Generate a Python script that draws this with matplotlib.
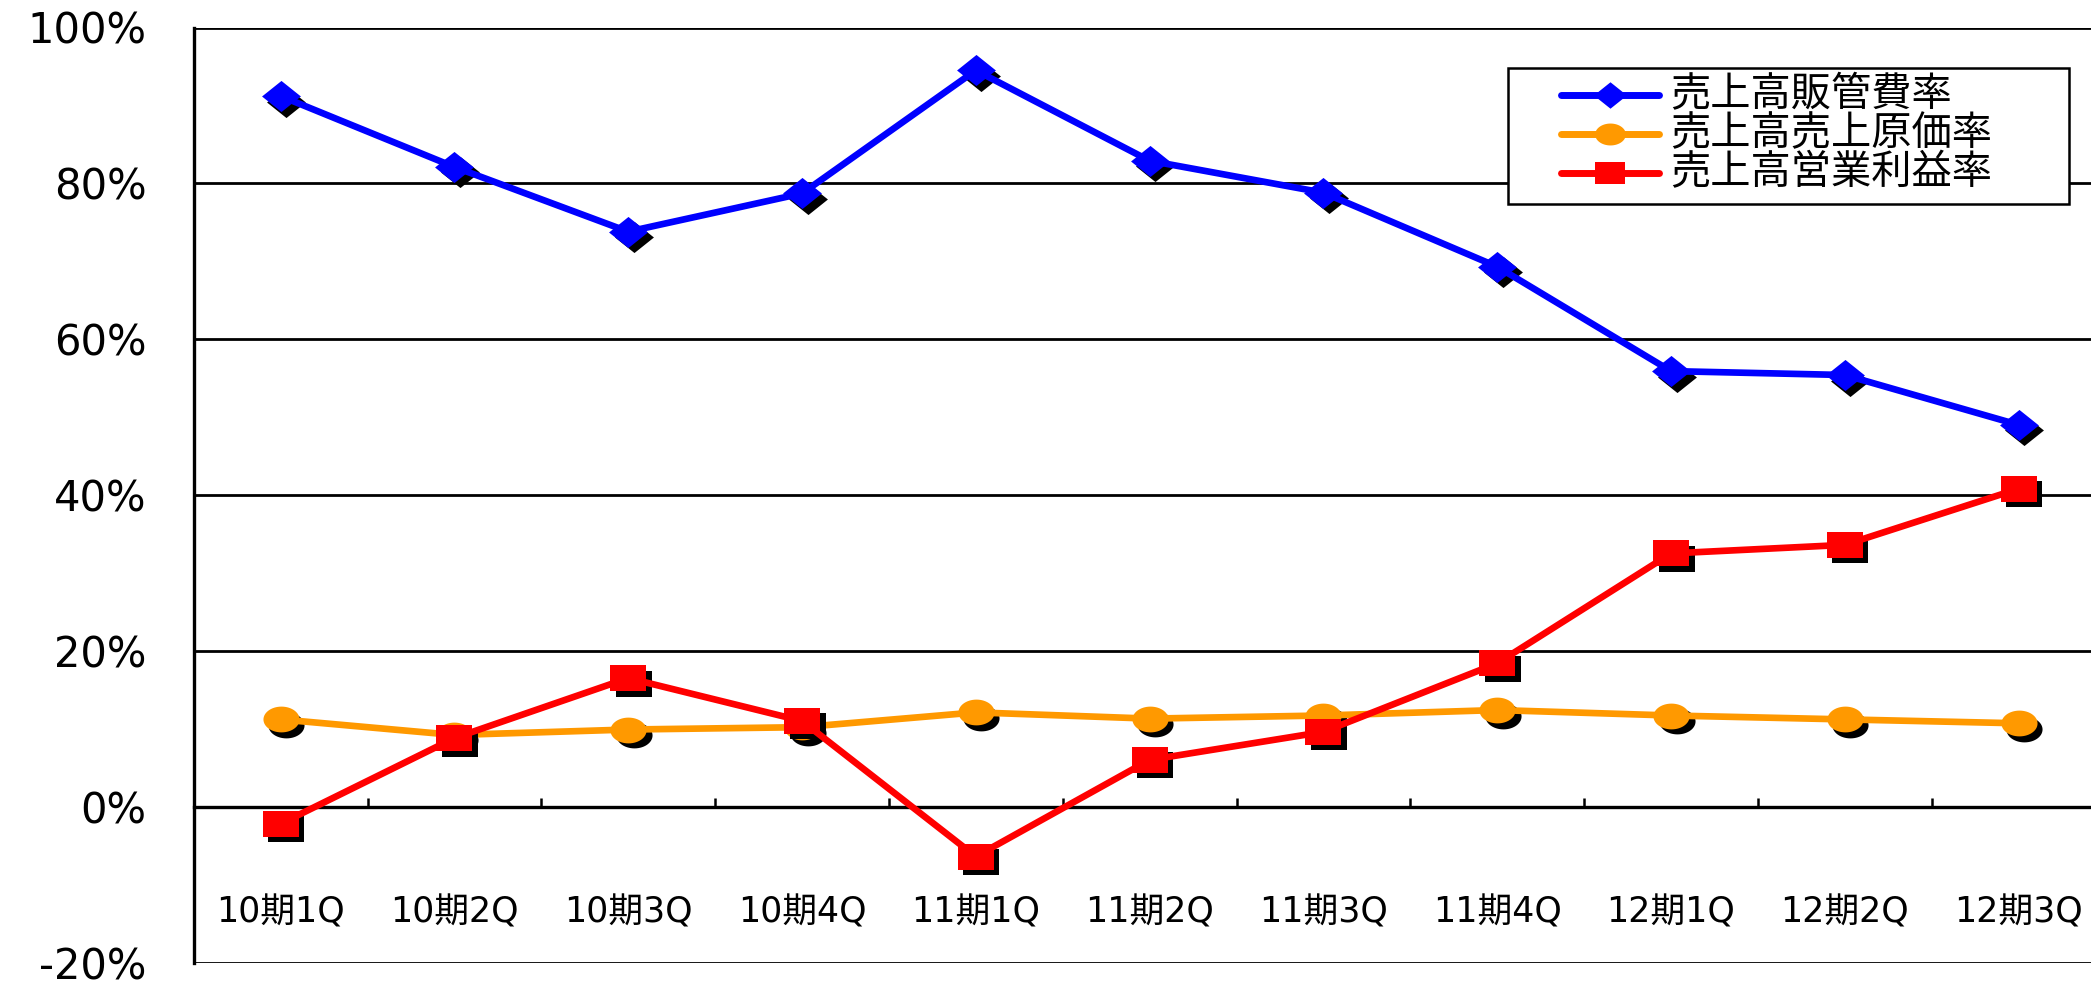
import matplotlib
matplotlib.use("Agg")
import matplotlib.pyplot as plt
import numpy as np
from matplotlib.path import Path
from matplotlib.patches import Rectangle
from matplotlib.lines import Line2D
from matplotlib.transforms import ScaledTranslation

quarters = ["10期1Q", "10期2Q", "10期3Q", "10期4Q", "11期1Q", "11期2Q",
            "11期3Q", "11期4Q", "12期1Q", "12期2Q", "12期3Q"]
sga_ratio = [91.2, 82.1, 73.8, 78.7, 94.5, 82.9, 78.8, 69.3, 55.9, 55.4, 49.0]
cost_ratio = [11.2, 9.2, 9.9, 10.2, 12.1, 11.3, 11.7, 12.4, 11.7, 11.2, 10.7]
profit_ratio = [-2.2, 8.8, 16.5, 11.0, -6.4, 6.0, 9.6, 18.4, 32.5, 33.6, 40.8]
series_names = ["売上高販管費率", "売上高売上原価率", "売上高営業利益率"]
y_ticks = [-20, 0, 20, 40, 60, 80, 100]

# wide markers (the original chart is stretched horizontally)
diamond = Path([(-1.25, 0), (0, -1), (1.25, 0), (0, 1), (-1.25, 0)], closed=True)
square = Path([(-1.4, -1), (1.4, -1), (1.4, 1), (-1.4, 1), (-1.4, -1)], closed=True)
t = np.linspace(0, 2 * np.pi, 61)
ellipse = Path(np.column_stack([1.4 * np.cos(t), np.sin(t)]), closed=True)

W, H = 2091, 981
fig = plt.figure(figsize=(W / 100, H / 100), dpi=100)
ax = fig.add_axes([193.7 / W, 18.5 / H, (2105.5 - 193.7) / W, 935 / H])

x = np.arange(len(quarters))
shadow = ax.transData + ScaledTranslation(0.055, -0.055, fig.dpi_scale_trans)

styles = [(sga_ratio, "#0000FF", diamond, 28),
          (cost_ratio, "#FF9900", ellipse, 26),
          (profit_ratio, "#FF0000", square, 26)]
for k, (vals, col, mk, ms) in enumerate(styles):
    z = 3 + 3 * k
    ax.plot(x, vals, linestyle="none", marker=mk, markersize=ms, color="black",
            markeredgewidth=0, transform=shadow, zorder=z, clip_on=False)
    ax.plot(x, vals, color=col, lw=4.8, marker=mk, markersize=ms,
            markeredgewidth=0, zorder=z + 1, clip_on=False)

ax.set_xlim(-0.5, 10.5)
ax.set_ylim(-20, 100)

# gridlines
for yv in y_ticks:
    if yv != 0:
        ax.axhline(yv, color="black", lw=2.0, zorder=1)

for s in ["top", "right"]:
    ax.spines[s].set_visible(False)
ax.spines["left"].set_linewidth(2.4)
ax.spines["bottom"].set_position(("data", 0))
ax.spines["bottom"].set_linewidth(2.4)

ax.set_xticks(np.arange(0.5, 10.5, 1.0))
ax.set_xticklabels([])
ax.tick_params(axis="x", direction="in", length=6.5, width=1.8)

ax.set_yticks(y_ticks)
ax.set_yticklabels([f"{v}%" for v in y_ticks], fontsize=30, family="DejaVu Sans")
ax.tick_params(axis="y", length=0, pad=34)

for i, lab in enumerate(quarters):
    ax.text(i, -13.6, lab, ha="center", va="center", fontsize=25,
            family=["DejaVu Sans", "Noto Sans CJK JP"])

# legend box drawn by hand to match the original layout
fig.add_artist(Rectangle((1508 / W, 1 - 204 / H), 561 / W, 136 / H,
                         transform=fig.transFigure, facecolor="white",
                         edgecolor="black", lw=1.8, zorder=20))
row_y = [95, 134, 173]
for k, (vals, col, mk, ms) in enumerate(styles):
    yy = 1 - row_y[k] / H
    fig.add_artist(Line2D([1561 / W, 1610 / W, 1659 / W], [yy, yy, yy],
                          transform=fig.transFigure, color=col, lw=5,
                          marker=mk, markersize=ms * 0.85, markevery=[1],
                          markeredgewidth=0, solid_capstyle="round", zorder=21))
    fig.text(1670 / W, yy, series_names[k], ha="left", va="center",
             fontsize=29, family="Noto Sans CJK JP", zorder=22)

fig.savefig("out.png", dpi=100)
